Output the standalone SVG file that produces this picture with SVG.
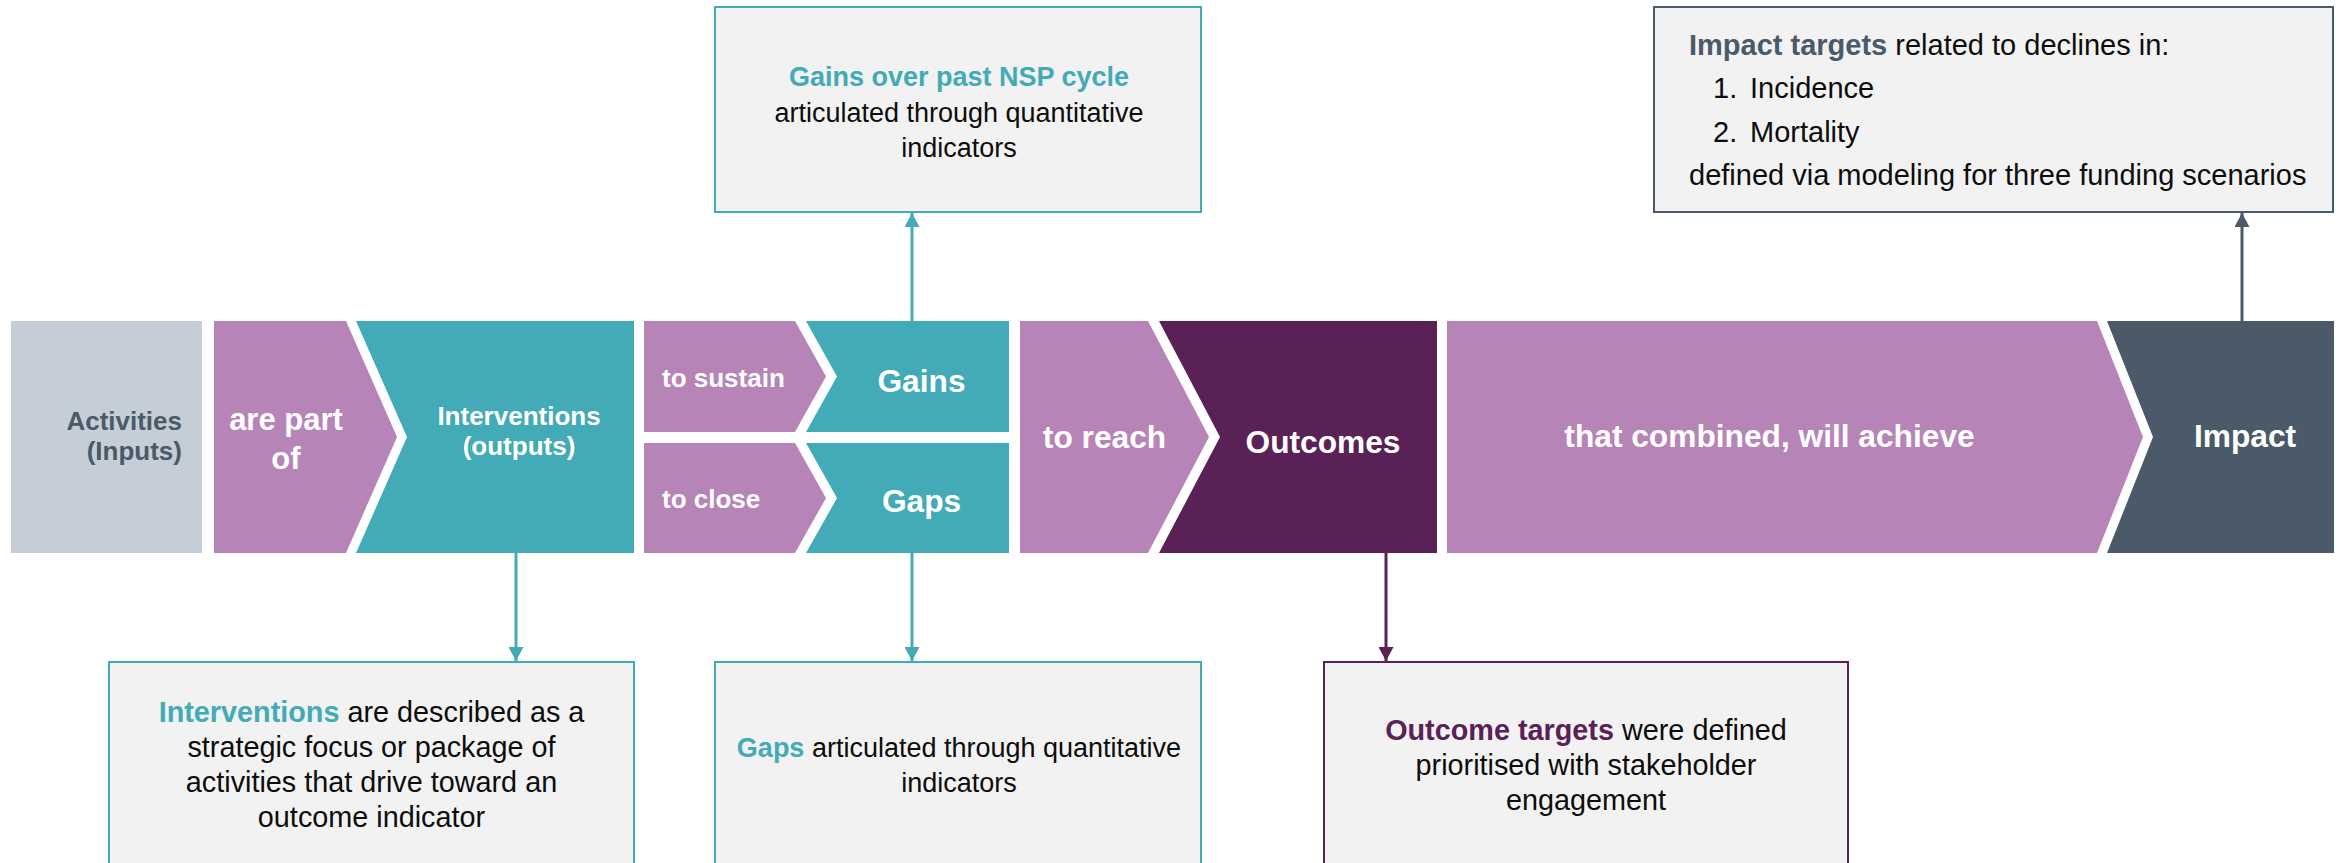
<svg xmlns="http://www.w3.org/2000/svg" width="2343" height="863" viewBox="0 0 2343 863">
  <style>
    text { font-family: "Liberation Sans", Arial, Helvetica, sans-serif; }
    .lbl { font-weight: bold; fill: #ffffff; }
    .big { font-size: 31.7px; }
    .mid { font-size: 26px; }
    .body { font-size: 28.8px; fill: #0d0d0d; }
    .body27 { font-size: 27px; fill: #0d0d0d; }
    .imp { font-size: 29px; fill: #0d0d0d; }
    .b { font-weight: bold; }
    .teal-t { fill: #43aab7; }
    .plum-t { fill: #5a2157; }
    .slate-t { fill: #4a5a68; }
    .card { fill: #f2f2f2; stroke-width: 2; }
    .line { fill: none; stroke-width: 3; }
  </style>
  <defs>
    <marker id="head-teal" markerUnits="userSpaceOnUse" markerWidth="14" markerHeight="15" refX="14" refY="7.5" orient="auto">
      <path d="M0,0 L14,7.5 L0,15 z" fill="#43aab7"/>
    </marker>
    <marker id="head-plum" markerUnits="userSpaceOnUse" markerWidth="14" markerHeight="15" refX="14" refY="7.5" orient="auto">
      <path d="M0,0 L14,7.5 L0,15 z" fill="#5a2157"/>
    </marker>
    <marker id="head-slate" markerUnits="userSpaceOnUse" markerWidth="14" markerHeight="15" refX="14" refY="7.5" orient="auto">
      <path d="M0,0 L14,7.5 L0,15 z" fill="#4a5a68"/>
    </marker>
  </defs>

  <rect width="2343" height="863" fill="#ffffff"/>

  <!-- main chevron row -->
  <g id="activities">
    <rect x="11" y="321" width="191" height="232" fill="#c5ced6"/>
    <text class="mid b slate-t" x="182" y="430" text-anchor="end">Activities</text>
    <text class="mid b slate-t" x="182" y="460" text-anchor="end">(Inputs)</text>
  </g>

  <g id="are-part-of">
    <polygon points="214,321 346,321 397,437 346,553 214,553" fill="#b784b7"/>
    <text class="lbl" font-size="31" x="286" y="430" text-anchor="middle">are part</text>
    <text class="lbl" font-size="31" x="286" y="469" text-anchor="middle">of</text>
  </g>

  <g id="interventions">
    <polygon points="356,321 634,321 634,553 356,553 407,437" fill="#43aab7"/>
    <text class="lbl mid" x="519" y="425" text-anchor="middle">Interventions</text>
    <text class="lbl mid" x="519" y="455" text-anchor="middle">(outputs)</text>
  </g>

  <g id="to-sustain">
    <polygon points="644,321 795,321 826,376.5 795,432 644,432" fill="#b784b7"/>
    <text class="lbl mid" x="662" y="387">to sustain</text>
  </g>

  <g id="gains">
    <polygon points="806,321 1009,321 1009,432 806,432 837,376.5" fill="#43aab7"/>
    <text class="lbl big" x="921.5" y="392" text-anchor="middle">Gains</text>
  </g>

  <g id="to-close">
    <polygon points="644,443 795,443 826,498 795,553 644,553" fill="#b784b7"/>
    <text class="lbl mid" x="662" y="508">to close</text>
  </g>

  <g id="gaps">
    <polygon points="806,443 1009,443 1009,553 806,553 837,498" fill="#43aab7"/>
    <text class="lbl big" x="921.5" y="512" text-anchor="middle">Gaps</text>
  </g>

  <g id="to-reach">
    <polygon points="1020,321 1148,321 1209,437 1148,553 1020,553" fill="#b784b7"/>
    <text class="lbl big" x="1104.5" y="448" text-anchor="middle">to reach</text>
  </g>

  <g id="outcomes">
    <polygon points="1159,321 1437,321 1437,553 1159,553 1220,437" fill="#5a2157"/>
    <text class="lbl big" x="1323" y="453" text-anchor="middle">Outcomes</text>
  </g>

  <g id="combined">
    <polygon points="1447,321 2097,321 2143,437 2097,553 1447,553" fill="#b784b7"/>
    <text class="lbl big" x="1769.5" y="447" text-anchor="middle">that combined, will achieve</text>
  </g>

  <g id="impact">
    <polygon points="2107,321 2334,321 2334,553 2107,553 2153,437" fill="#4a5a68"/>
    <text class="lbl big" x="2245" y="447" text-anchor="middle">Impact</text>
  </g>

  <!-- description cards -->
  <g id="gains-note">
    <rect class="card" x="715" y="7" width="486" height="205" stroke="#43aab7"/>
    <text class="body27 b teal-t" x="959" y="86" text-anchor="middle">Gains over past NSP cycle</text>
    <text class="body27" x="959" y="122" text-anchor="middle">articulated through quantitative</text>
    <text class="body27" x="959" y="157" text-anchor="middle">indicators</text>
  </g>

  <g id="impact-note">
    <rect class="card" x="1654" y="7" width="679" height="205" stroke="#4a5a68"/>
    <text class="imp" x="1689" y="55"><tspan class="b slate-t">Impact targets</tspan> related to declines in:</text>
    <text class="imp" x="1713" y="98">1.</text>
    <text class="imp" x="1750" y="98">Incidence</text>
    <text class="imp" x="1713" y="142">2.</text>
    <text class="imp" x="1750" y="142">Mortality</text>
    <text class="imp" x="1689" y="185">defined via modeling for three funding scenarios</text>
  </g>

  <g id="interventions-note">
    <rect class="card" x="109" y="662" width="525" height="220" stroke="#43aab7"/>
    <text class="body" x="371.5" y="722" text-anchor="middle"><tspan class="b teal-t">Interventions</tspan> are described as a</text>
    <text class="body" x="371.5" y="757" text-anchor="middle">strategic focus or package of</text>
    <text class="body" x="371.5" y="792" text-anchor="middle">activities that drive toward an</text>
    <text class="body" x="371.5" y="827" text-anchor="middle">outcome indicator</text>
  </g>

  <g id="gaps-note">
    <rect class="card" x="715" y="662" width="486" height="220" stroke="#43aab7"/>
    <text class="body27" x="959" y="757" text-anchor="middle"><tspan class="b teal-t">Gaps</tspan> articulated through quantitative</text>
    <text class="body27" x="959" y="792" text-anchor="middle">indicators</text>
  </g>

  <g id="outcomes-note">
    <rect class="card" x="1324" y="662" width="524" height="220" stroke="#5a2157"/>
    <text class="body" x="1586" y="740" text-anchor="middle"><tspan class="b plum-t">Outcome targets</tspan> were defined</text>
    <text class="body" x="1586" y="775" text-anchor="middle">prioritised with stakeholder</text>
    <text class="body" x="1586" y="810" text-anchor="middle">engagement</text>
  </g>

  <!-- connectors -->
  <g id="connectors">
    <path class="line" d="M912,321 V213" stroke="#43aab7" marker-end="url(#head-teal)"/>
    <path class="line" d="M2242,321 V213" stroke="#4a5a68" marker-end="url(#head-slate)"/>
    <path class="line" d="M516,553 V661" stroke="#43aab7" marker-end="url(#head-teal)"/>
    <path class="line" d="M912,553 V661" stroke="#43aab7" marker-end="url(#head-teal)"/>
    <path class="line" d="M1386,553 V661" stroke="#5a2157" marker-end="url(#head-plum)"/>
  </g>
</svg>
